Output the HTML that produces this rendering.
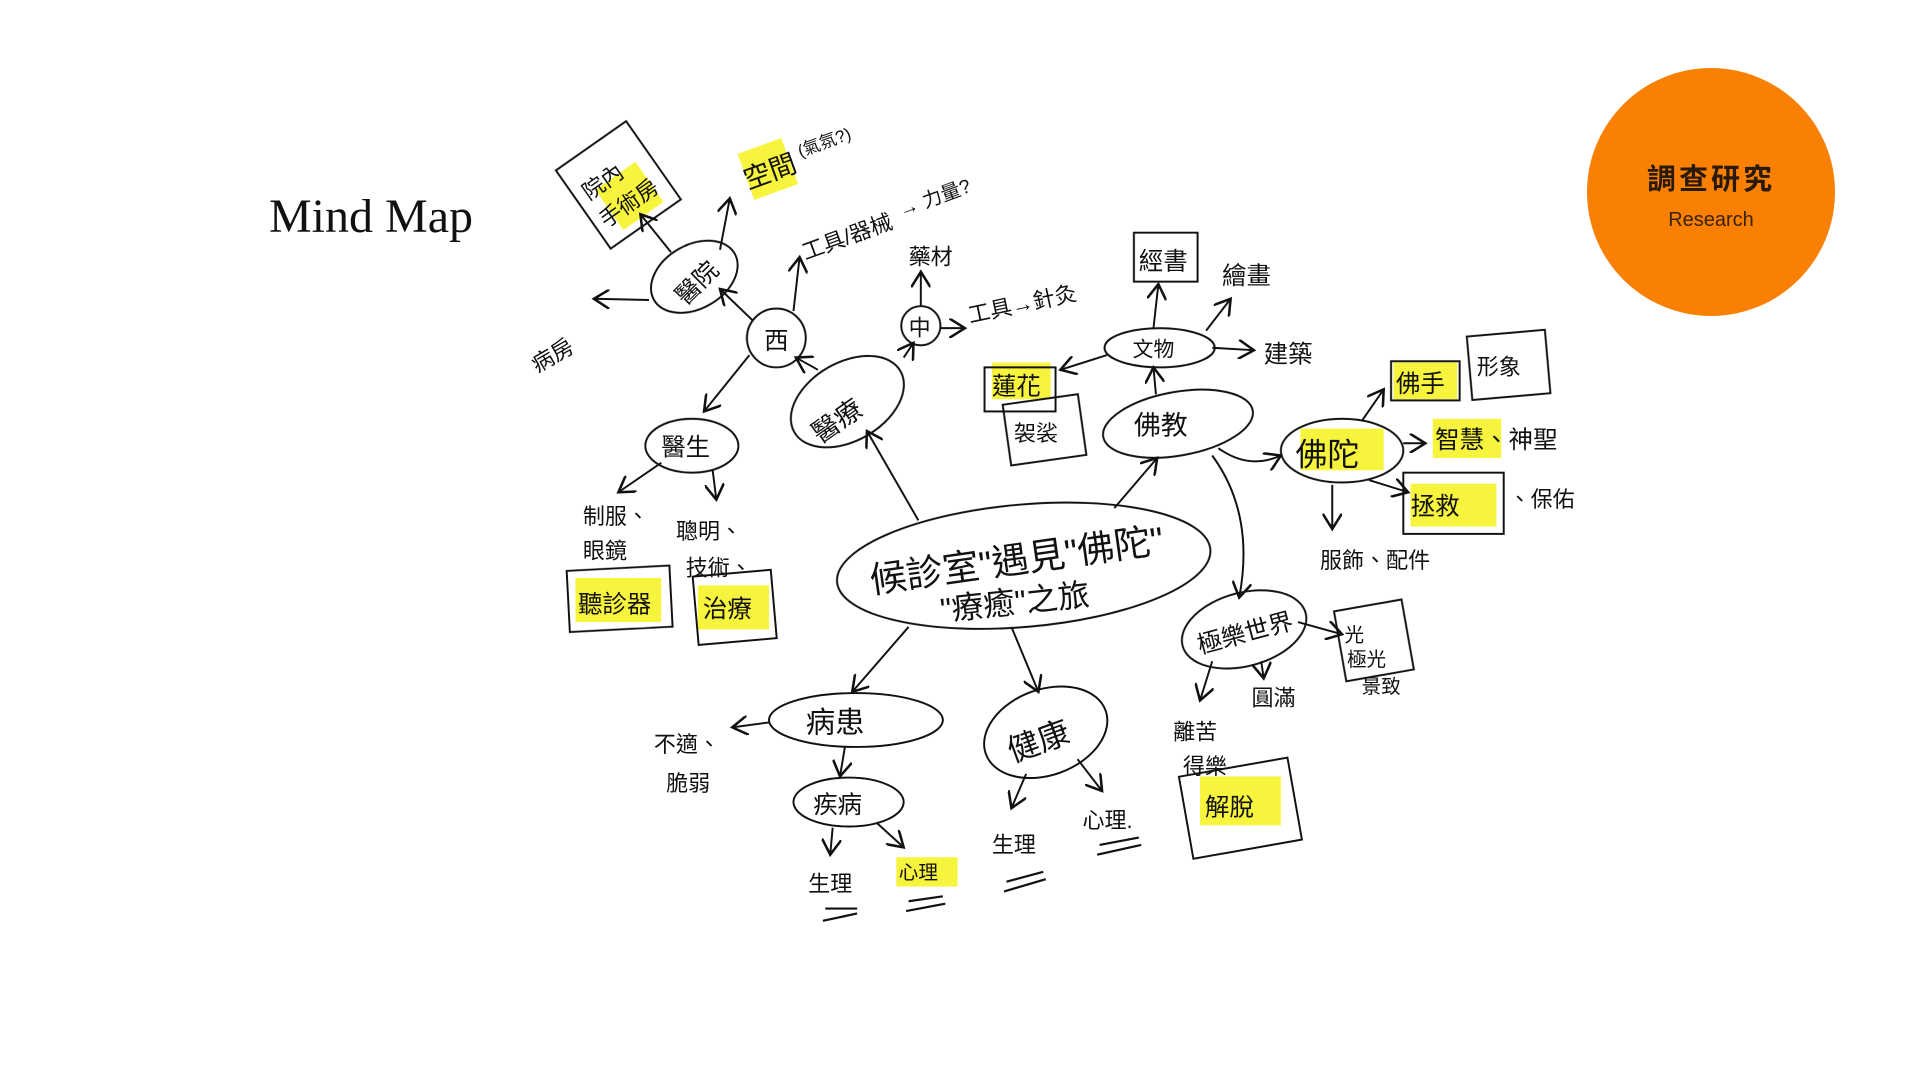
<!DOCTYPE html>
<html><head><meta charset="utf-8">
<style>
html,body{margin:0;padding:0;background:#fff;width:1920px;height:1081px;overflow:hidden}
svg{display:block}
.t{font-family:"Liberation Sans","Noto Sans CJK TC",sans-serif;fill:#111}
</style></head>
<body>
<svg width="1920" height="1081" viewBox="0 0 1920 1081" xmlns="http://www.w3.org/2000/svg">
<defs><marker id="a" markerWidth="10" markerHeight="10" refX="8" refY="5" orient="auto"><path d="M0,0 L8,5 L0,10" fill="none" stroke="#111" stroke-width="1.3"/></marker></defs>
<circle cx="1711" cy="192" r="124" fill="#f98003"/>
<text x="1711" y="189" text-anchor="middle" font-family="'Noto Sans CJK TC',sans-serif" font-size="29" font-weight="bold" fill="#2a1a0a" letter-spacing="3">調查研究</text>
<text x="1711" y="226" text-anchor="middle" font-family="'Liberation Sans',sans-serif" font-size="20" fill="#3a2206">Research</text>
<text x="269" y="232" font-family="'Liberation Serif',serif" font-size="48" fill="#111">Mind Map</text>
<g transform="scale(1.2245)" fill="none" stroke="#111" stroke-width="1.6">
<g stroke="none" fill="#f6f21c" opacity="0.85">
<rect x="494" y="140" width="40" height="40" transform="rotate(-35 514 160)"/>
<rect x="608" y="118" width="38" height="40" transform="rotate(-20 627 138)"/>
<rect x="810" y="296" width="48" height="30"/>
<rect x="1138" y="296" width="52" height="30"/>
<rect x="1170" y="342" width="56" height="32"/>
<rect x="1062" y="350" width="68" height="34"/>
<rect x="1152" y="395" width="70" height="35"/>
<rect x="470" y="472" width="70" height="36"/>
<rect x="570" y="478" width="58" height="36"/>
<rect x="980" y="634" width="66" height="40"/>
<rect x="732" y="700" width="50" height="24"/>
</g>
<ellipse cx="836" cy="462" rx="153" ry="50" transform="rotate(-5 836 462)"/>
<ellipse cx="692" cy="328" rx="50" ry="32" transform="rotate(-30 692 328)"/>
<circle cx="634" cy="276" r="24"/>
<circle cx="752" cy="266" r="16"/>
<ellipse cx="567" cy="226" rx="38" ry="26" transform="rotate(-30 567 226)"/>
<ellipse cx="565" cy="364" rx="38" ry="22"/>
<ellipse cx="962" cy="346" rx="62" ry="26" transform="rotate(-10 962 346)"/>
<ellipse cx="947" cy="284" rx="45" ry="16"/>
<ellipse cx="1096" cy="368" rx="50" ry="26"/>
<ellipse cx="1016" cy="514" rx="52" ry="30" transform="rotate(-15 1016 514)"/>
<ellipse cx="699" cy="588" rx="71" ry="22"/>
<ellipse cx="693" cy="655" rx="45" ry="20"/>
<ellipse cx="854" cy="598" rx="52" ry="35" transform="rotate(-20 854 598)"/>
<rect x="470" y="112" width="70" height="78" transform="rotate(-35 505 151)"/>
<rect x="926" y="190" width="52" height="40"/>
<rect x="1136" y="295" width="56" height="32"/>
<rect x="1200" y="272" width="64" height="52" transform="rotate(-5 1232 298)"/>
<rect x="804" y="300" width="58" height="36"/>
<rect x="822" y="326" width="62" height="50" transform="rotate(-8 853 351)"/>
<rect x="1146" y="386" width="82" height="50"/>
<rect x="464" y="464" width="84" height="50" transform="rotate(-3 506 489)"/>
<rect x="568" y="468" width="64" height="56" transform="rotate(-5 600 496)"/>
<rect x="1094" y="494" width="56" height="58" transform="rotate(-10 1122 523)"/>
<rect x="968" y="626" width="90" height="68" transform="rotate(-10 1013 660)"/>
<g marker-end="url(#a)">
<line x1="750" y1="425" x2="708" y2="352"/>
<line x1="910" y1="415" x2="945" y2="374"/>
<line x1="742" y1="512" x2="696" y2="565"/>
<line x1="826" y1="512" x2="848" y2="565"/>
<path d="M990 372 Q1025 420 1012 488"/>
<line x1="668" y1="302" x2="650" y2="292"/>
<line x1="738" y1="292" x2="746" y2="280"/>
<line x1="615" y1="262" x2="588" y2="236"/>
<line x1="612" y1="290" x2="575" y2="336"/>
<line x1="648" y1="254" x2="653" y2="210"/>
<line x1="752" y1="250" x2="752" y2="222"/>
<line x1="768" y1="268" x2="788" y2="268"/>
<line x1="548" y1="206" x2="523" y2="175"/>
<line x1="588" y1="204" x2="596" y2="162"/>
<line x1="530" y1="245" x2="485" y2="244"/>
<line x1="540" y1="378" x2="505" y2="402"/>
<line x1="582" y1="384" x2="585" y2="408"/>
<line x1="904" y1="290" x2="866" y2="302"/>
<line x1="942" y1="268" x2="946" y2="232"/>
<line x1="985" y1="270" x2="1005" y2="244"/>
<line x1="990" y1="284" x2="1024" y2="286"/>
<line x1="944" y1="322" x2="942" y2="300"/>
<path d="M995 366 Q1020 384 1046 372"/>
<line x1="1112" y1="344" x2="1130" y2="318"/>
<line x1="1146" y1="362" x2="1164" y2="362"/>
<line x1="1118" y1="392" x2="1150" y2="402"/>
<line x1="1088" y1="396" x2="1088" y2="432"/>
<line x1="990" y1="540" x2="980" y2="572"/>
<line x1="1030" y1="540" x2="1032" y2="554"/>
<line x1="1060" y1="508" x2="1096" y2="518"/>
<line x1="628" y1="590" x2="598" y2="594"/>
<line x1="690" y1="610" x2="686" y2="634"/>
<line x1="680" y1="676" x2="678" y2="698"/>
<line x1="716" y1="672" x2="738" y2="692"/>
<line x1="838" y1="632" x2="826" y2="660"/>
<line x1="880" y1="620" x2="900" y2="646"/>
</g>
<g stroke-width="1.8">
<path d="M674 742 L700 742 M672 752 L700 746"/><path d="M742 736 L770 732 M740 744 L772 738"/>
<path d="M822 720 L852 712 M820 728 L854 718"/><path d="M898 690 L930 684 M896 698 L932 690"/>
</g>
</g>
<g class="t" transform="scale(1.2245)">
<text x="710" y="467" font-size="30" transform="rotate(-8 836 462)">候診室"遇見"佛陀"</text>
<text x="768" y="500" font-size="26" transform="rotate(-6 836 495)">"療癒"之旅</text>
<text x="658" y="345" font-size="22" transform="rotate(-35 692 335)">醫療</text>
<text x="624" y="285" font-size="20">西</text>
<text x="742" y="274" font-size="18">中</text>
<text x="545" y="238" font-size="20" transform="rotate(-45 567 226)">醫院</text>
<text x="540" y="372" font-size="20">醫生</text>
<text x="926" y="355" font-size="22">佛教</text>
<text x="925" y="291" font-size="17">文物</text>
<text x="1058" y="380" font-size="26">佛陀</text>
<text x="976" y="524" font-size="20" transform="rotate(-15 1016 514)">極樂世界</text>
<text x="658" y="598" font-size="24">病患</text>
<text x="664" y="664" font-size="20">疾病</text>
<text x="820" y="612" font-size="26" transform="rotate(-20 854 598)">健康</text>
<text x="478" y="148" font-size="18" transform="rotate(-35 505 151)">院內</text>
<text x="488" y="178" font-size="18" transform="rotate(-35 505 171)">手術房</text>
<text x="606" y="148" font-size="22" transform="rotate(-20 627 138)">空間</text>
<text x="650" y="122" font-size="14" transform="rotate(-20 670 115)">(氣氛?)</text>
<text x="652" y="200" font-size="18" transform="rotate(-20 690 190)">工具/器械</text>
<text x="732" y="168" font-size="16" transform="rotate(-20 760 160)">→ 力量?</text>
<text x="430" y="292" font-size="18" transform="rotate(-30 458 282)">病房</text>
<text x="742" y="216" font-size="18">藥材</text>
<text x="790" y="256" font-size="18" transform="rotate(-12 828 250)">工具→針灸</text>
<text x="476" y="428" font-size="18">制服、</text>
<text x="476" y="456" font-size="18">眼鏡</text>
<text x="472" y="500" font-size="20">聽診器</text>
<text x="552" y="440" font-size="18">聰明、</text>
<text x="560" y="470" font-size="18">技術、</text>
<text x="574" y="504" font-size="20">治療</text>
<text x="930" y="220" font-size="20">經書</text>
<text x="998" y="232" font-size="20">繪畫</text>
<text x="1032" y="296" font-size="20">建築</text>
<text x="810" y="322" font-size="20">蓮花</text>
<text x="828" y="360" font-size="18">袈裟</text>
<text x="1140" y="320" font-size="20">佛手</text>
<text x="1206" y="306" font-size="18">形象</text>
<text x="1172" y="366" font-size="20">智慧、神聖</text>
<text x="1152" y="420" font-size="20">拯救</text>
<text x="1232" y="414" font-size="18">、保佑</text>
<text x="1078" y="464" font-size="18">服飾、配件</text>
<text x="1098" y="524" font-size="16">光</text>
<text x="1100" y="544" font-size="16">極光</text>
<text x="1112" y="566" font-size="16">景致</text>
<text x="1022" y="576" font-size="18">圓滿</text>
<text x="958" y="604" font-size="18">離苦</text>
<text x="966" y="632" font-size="18">得樂</text>
<text x="984" y="666" font-size="20">解脫</text>
<text x="534" y="614" font-size="18">不適、</text>
<text x="544" y="646" font-size="18">脆弱</text>
<text x="660" y="728" font-size="18">生理</text>
<text x="734" y="718" font-size="16">心理</text>
<text x="810" y="696" font-size="18">生理</text>
<text x="884" y="676" font-size="18">心理.</text>
</g>
</svg>
</body></html>
